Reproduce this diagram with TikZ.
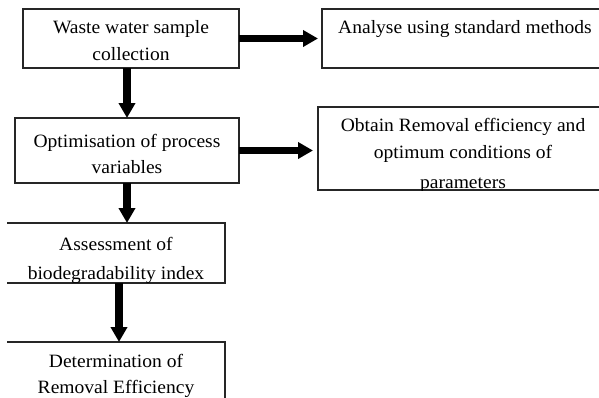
\documentclass[tikz,border=0pt]{standalone}
\usepackage{fontspec}
\setmainfont{Liberation Serif}[FakeStretch=1.04]
\usetikzlibrary{arrows.meta}
\begin{document}
\begin{tikzpicture}[x=1pt,y=-1pt,
  box/.style={draw=black!85, line width=1.1pt, rectangle, inner sep=0pt, outer sep=0pt},
  openbox/.style={rectangle, inner sep=0pt, outer sep=0pt},
  edge/.style={draw=black!85, line width=1.1pt},
  lbl/.style={anchor=base, inner sep=0pt, font=\fontsize{18.8}{22}\selectfont, text=black},
  arr/.style={line width=7.5pt, -{Triangle[length=15pt,width=16pt]}}]
\useasboundingbox (0,0) rectangle (599,397);
\clip (0,0) rectangle (599,397);
% boxes
\node[box, minimum width=216pt, minimum height=59pt] (b1) at (131,38.5) {};
\node[box, minimum width=287pt, minimum height=59pt] (b2) at (465.5,38.5) {};
\node[box, minimum width=224pt, minimum height=65pt] (b3) at (127,150.5) {};
\node[box, minimum width=290pt, minimum height=83pt] (b4) at (463,148.5) {};
\node[openbox, minimum width=218pt, minimum height=60pt] (b5) at (116,253) {};
\node[openbox, minimum width=218pt, minimum height=78pt] (b6) at (116,381) {};
\draw[edge] (b5.north west) -- (b5.north east) -- (b5.south east) -- (b5.south west);
\draw[edge] (b6.north west) -- (b6.north east) -- (b6.south east);
% texts
\node[lbl] (t1a) at (131,33) {Waste water sample};
\node[lbl] (t1b) at (131,60) {collection};
\node[lbl] (t2a) at (465,33) {Analyse using standard methods};
\node[lbl] (t3a) at (127,147) {Optimisation of process};
\node[lbl] (t3b) at (127,173) {variables};
\begin{scope}
  \clip (b4.north west) rectangle (b4.south east);
  \node[lbl] (t4a) at (463,131) {Obtain Removal efficiency and};
  \node[lbl] (t4b) at (463,158) {optimum conditions of};
  \node[lbl] (t4c) at (463,188) {parameters};
\end{scope}
\begin{scope}
  \clip (b5.north west) rectangle (b5.south east);
  \node[lbl] (t5a) at (116,250) {Assessment of};
  \node[lbl] (t5b) at (116,279) {biodegradability index};
\end{scope}
\node[lbl] (t6a) at (116,367) {Determination of};
\node[lbl] (t6b) at (116,393) {Removal Efficiency};
% arrows
\draw[arr, shorten >=4pt] (b1.east) -- (b2.west);
\draw[arr, shorten >=5pt] (b3.east) -- (b3.east -| b4.west);
\draw[arr] (b1.south -| b3.north) -- (b3.north);
\draw[arr] (b3.south) -- (b3.south |- b5.north);
\draw[arr] ([xshift=3pt]b5.south) -- ([xshift=3pt]b5.south |- b6.north);
\end{tikzpicture}
\end{document}
